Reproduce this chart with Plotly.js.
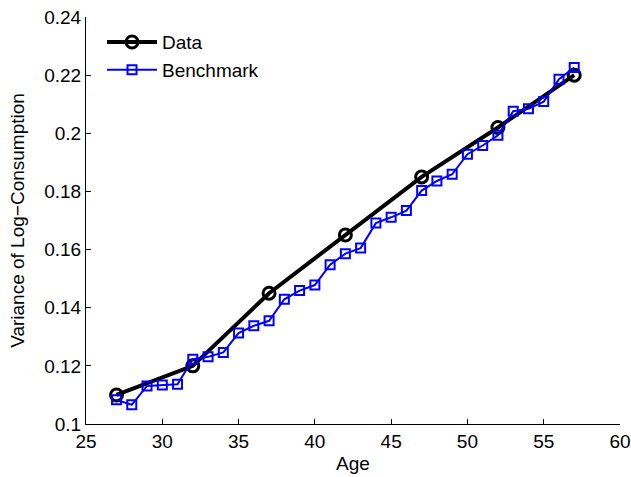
<!DOCTYPE html>
<html>
<head>
<meta charset="utf-8">
<script src="https://cdn.plot.ly/plotly-3.0.1.min.js"></script>
<style>
  html, body { margin: 0; padding: 0; background: #fff; }
  #chart { width: 631px; height: 477px; }
</style>
</head>
<body>
<div id="chart"></div>
<script>
// Data series (ages every 5 years)
const dataAges = [27, 32, 37, 42, 47, 52, 57];
const dataValues = [0.110, 0.120, 0.145, 0.165, 0.185, 0.202, 0.220];

// Benchmark series (every year, 27..57)
const benchAges = [27, 28, 29, 30, 31, 32, 33, 34, 35, 36, 37, 38, 39, 40, 41, 42,
  43, 44, 45, 46, 47, 48, 49, 50, 51, 52, 53, 54, 55, 56, 57];
const benchValues = [0.1083, 0.1066, 0.1131, 0.1134, 0.1137, 0.1223, 0.1231, 0.1246,
  0.1313, 0.1338, 0.1355, 0.1429, 0.1459, 0.1478, 0.1548, 0.1586, 0.1605, 0.1691,
  0.1711, 0.1734, 0.1803, 0.1836, 0.1859, 0.1928, 0.1958, 0.1993, 0.2076, 0.2084,
  0.2109, 0.2186, 0.2226];

const xTicks = [25, 30, 35, 40, 45, 50, 55, 60];
const yTicks = [0.1, 0.12, 0.14, 0.16, 0.18, 0.2, 0.22, 0.24];
const yTickText = ['0.1', '0.12', '0.14', '0.16', '0.18', '0.2', '0.22', '0.24'];

const FS = 19;

const traces = [
  {
    x: dataAges, y: dataValues, name: 'Data',
    type: 'scatter', mode: 'lines+markers',
    line: { color: '#000000', width: 4 },
    marker: { symbol: 'circle-open', size: 12, color: '#000000', line: { width: 3, color: '#000000' } },
  },
  {
    x: benchAges, y: benchValues, name: 'Benchmark',
    type: 'scatter', mode: 'lines+markers',
    line: { color: '#0000FF', width: 2 },
    marker: { symbol: 'square-open', size: 9, color: '#0000FF', line: { width: 2, color: '#0000FF' } },
  },
];

const axisCommon = {
  showgrid: false,
  zeroline: false,
  showline: true,
  linecolor: '#000',
  linewidth: 1,
  ticks: 'inside',
  ticklen: 5,
  tickwidth: 1,
  tickcolor: '#000',
  tickfont: { size: FS, color: '#000' },
};

const layout = {
  width: 631,
  height: 477,
  paper_bgcolor: '#fff',
  plot_bgcolor: '#fff',
  font: { family: 'Liberation Sans, Arial, sans-serif', size: FS, color: '#000' },
  margin: { l: 86, r: 11, t: 17, b: 53, pad: 0 },
  showlegend: true,
  legend: {
    x: 0.03, y: 0.985, xanchor: 'left', yanchor: 'top',
    bgcolor: 'rgba(255,255,255,0)',
    font: { size: FS, color: '#000' },
    itemwidth: 50,
    tracegroupgap: 0,
  },
  xaxis: Object.assign({}, axisCommon, {
    range: [25, 60],
    tickvals: xTicks,
    title: { text: 'Age', standoff: 5, font: { size: FS } },
  }),
  yaxis: Object.assign({}, axisCommon, {
    range: [0.1, 0.24],
    tickvals: yTicks,
    ticktext: yTickText,
    title: { text: 'Variance of Log\u2212Consumption', standoff: 14, font: { size: FS } },
  }),
};

Plotly.newPlot('chart', traces, layout, { displayModeBar: false, staticPlot: true });
</script>
</body>
</html>
